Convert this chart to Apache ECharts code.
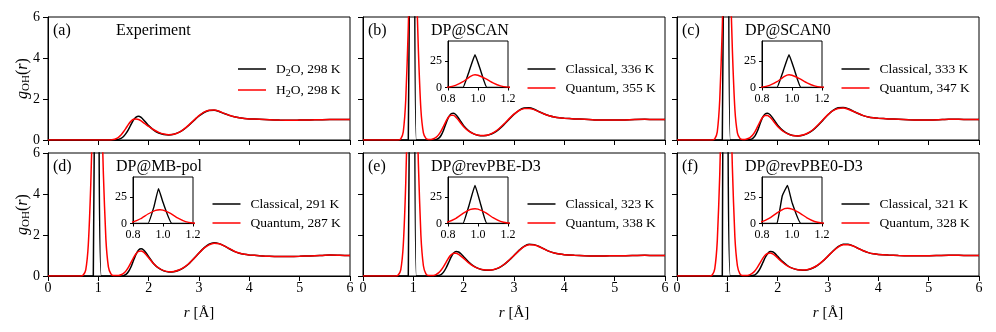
<!DOCTYPE html>
<html>
<head>
<meta charset="utf-8">
<script src="https://cdn.jsdelivr.net/npm/echarts@6/dist/echarts.min.js"></script>
<style>
  html, body { margin: 0; padding: 0; background: #fff; }
  #chart { width: 996px; height: 332px; }
</style>
</head>
<body>
<div id="chart"></div>
<script>
// g_OH(r), pairs of [r (Å), g]
const expD2O = [[0,0],[1.3,0],[1.35,0.01],[1.4,0.03],[1.45,0.08],[1.5,0.17],[1.55,0.32],[1.6,0.52],[1.65,0.76],[1.7,0.98],[1.75,1.12],[1.8,1.16],[1.85,1.1],[1.9,0.98],[1.95,0.84],[2.0,0.7],[2.1,0.48],[2.2,0.34],[2.3,0.27],[2.4,0.25],[2.5,0.28],[2.6,0.37],[2.7,0.52],[2.8,0.72],[2.9,0.95],[3.0,1.17],[3.1,1.34],[3.2,1.44],[3.3,1.45],[3.4,1.39],[3.5,1.29],[3.6,1.2],[3.7,1.13],[3.8,1.08],[3.9,1.05],[4.0,1.03],[4.2,1.01],[4.4,0.99],[4.6,0.97],[4.8,0.96],[5.0,0.97],[5.2,0.98],[5.4,0.99],[5.6,1.0],[5.8,1.0],[6.0,1.0]];
const expH2O = [[0,0],[1.25,0],[1.3,0.02],[1.35,0.06],[1.4,0.13],[1.45,0.24],[1.5,0.4],[1.55,0.58],[1.6,0.77],[1.65,0.92],[1.7,1.01],[1.75,1.03],[1.8,1.0],[1.85,0.93],[1.9,0.84],[1.95,0.75],[2.0,0.66],[2.1,0.5],[2.2,0.37],[2.3,0.29],[2.4,0.26],[2.5,0.28],[2.6,0.37],[2.7,0.53],[2.8,0.74],[2.9,0.97],[3.0,1.19],[3.1,1.36],[3.2,1.45],[3.3,1.46],[3.4,1.4],[3.5,1.3],[3.6,1.21],[3.7,1.13],[3.8,1.08],[3.9,1.05],[4.0,1.03],[4.2,1.01],[4.4,0.99],[4.6,0.97],[4.8,0.96],[5.0,0.97],[5.2,0.98],[5.4,0.99],[5.6,1.0],[5.8,1.0],[6.0,1.0]];

const scanCl = [[0,0],[0.88,0],[0.9,0],[0.94,15],[0.98,31],[1.02,15],[1.06,0],[1.4,0],[1.45,0.02],[1.5,0.08],[1.55,0.22],[1.6,0.48],[1.65,0.82],[1.7,1.12],[1.75,1.28],[1.8,1.3],[1.85,1.22],[1.9,1.06],[1.95,0.88],[2.0,0.7],[2.1,0.45],[2.2,0.3],[2.3,0.22],[2.4,0.21],[2.5,0.25],[2.6,0.35],[2.7,0.52],[2.8,0.75],[2.9,1.0],[3.0,1.25],[3.1,1.45],[3.2,1.56],[3.3,1.57],[3.4,1.5],[3.5,1.38],[3.6,1.27],[3.7,1.18],[3.8,1.12],[3.9,1.08],[4.0,1.06],[4.2,1.03],[4.4,1.01],[4.6,0.98],[4.8,0.97],[5.0,0.97],[5.2,0.98],[5.4,1.0],[5.6,1.01],[5.8,1.0],[6.0,1.0]];
const scanQu = [[0,0],[0.7,0],[0.75,0.05],[0.8,0.4],[0.85,2.0],[0.9,5.5],[0.95,10.5],[0.98,12],[1.0,11.6],[1.05,8.5],[1.1,4.4],[1.15,1.5],[1.2,0.35],[1.25,0.08],[1.3,0.03],[1.35,0.03],[1.4,0.06],[1.45,0.13],[1.5,0.25],[1.55,0.43],[1.6,0.67],[1.65,0.92],[1.7,1.12],[1.75,1.21],[1.8,1.2],[1.85,1.1],[1.9,0.96],[1.95,0.8],[2.0,0.65],[2.1,0.43],[2.2,0.3],[2.3,0.23],[2.4,0.22],[2.5,0.26],[2.6,0.37],[2.7,0.55],[2.8,0.78],[2.9,1.03],[3.0,1.26],[3.1,1.44],[3.2,1.53],[3.3,1.54],[3.4,1.48],[3.5,1.37],[3.6,1.27],[3.7,1.18],[3.8,1.12],[3.9,1.08],[4.0,1.06],[4.2,1.03],[4.4,1.01],[4.6,0.98],[4.8,0.97],[5.0,0.97],[5.2,0.98],[5.4,1.0],[5.6,1.01],[5.8,1.0],[6.0,1.0]];

const scan0Cl = [[0,0],[0.88,0],[0.9,0],[0.94,15],[0.98,31],[1.02,15],[1.06,0],[1.4,0],[1.45,0.02],[1.5,0.07],[1.55,0.2],[1.6,0.45],[1.65,0.79],[1.7,1.1],[1.75,1.27],[1.8,1.3],[1.85,1.23],[1.9,1.08],[1.95,0.9],[2.0,0.72],[2.1,0.47],[2.2,0.31],[2.3,0.22],[2.4,0.2],[2.5,0.23],[2.6,0.32],[2.7,0.48],[2.8,0.71],[2.9,0.97],[3.0,1.23],[3.1,1.44],[3.2,1.57],[3.3,1.59],[3.4,1.53],[3.5,1.41],[3.6,1.29],[3.7,1.19],[3.8,1.12],[3.9,1.08],[4.0,1.06],[4.2,1.03],[4.4,1.01],[4.6,0.99],[4.8,0.98],[5.0,0.98],[5.2,0.99],[5.4,1.01],[5.6,1.01],[5.8,1.0],[6.0,1.0]];
const scan0Qu = [[0,0],[0.7,0],[0.75,0.05],[0.8,0.4],[0.85,2.0],[0.9,5.5],[0.95,10.5],[0.98,12],[1.0,11.6],[1.05,8.5],[1.1,4.4],[1.15,1.5],[1.2,0.35],[1.25,0.08],[1.3,0.03],[1.35,0.03],[1.4,0.06],[1.45,0.12],[1.5,0.23],[1.55,0.41],[1.6,0.65],[1.65,0.9],[1.7,1.1],[1.75,1.2],[1.8,1.2],[1.85,1.11],[1.9,0.97],[1.95,0.81],[2.0,0.66],[2.1,0.44],[2.2,0.3],[2.3,0.22],[2.4,0.2],[2.5,0.24],[2.6,0.34],[2.7,0.5],[2.8,0.73],[2.9,0.99],[3.0,1.24],[3.1,1.43],[3.2,1.54],[3.3,1.56],[3.4,1.5],[3.5,1.4],[3.6,1.29],[3.7,1.19],[3.8,1.12],[3.9,1.08],[4.0,1.06],[4.2,1.03],[4.4,1.01],[4.6,0.99],[4.8,0.98],[5.0,0.98],[5.2,0.99],[5.4,1.01],[5.6,1.01],[5.8,1.0],[6.0,1.0]];

const mbpolCl = [[0,0],[0.88,0],[0.9,0],[0.94,16],[0.97,33],[1.0,20],[1.06,0],[1.45,0],[1.5,0.02],[1.55,0.08],[1.6,0.22],[1.65,0.45],[1.7,0.77],[1.75,1.07],[1.8,1.27],[1.85,1.33],[1.9,1.27],[1.95,1.12],[2.0,0.94],[2.1,0.6],[2.2,0.38],[2.3,0.25],[2.4,0.2],[2.5,0.21],[2.6,0.28],[2.7,0.41],[2.8,0.6],[2.9,0.85],[3.0,1.12],[3.1,1.37],[3.2,1.55],[3.3,1.62],[3.4,1.58],[3.5,1.47],[3.6,1.33],[3.7,1.2],[3.8,1.11],[3.9,1.06],[4.0,1.03],[4.2,0.99],[4.4,0.96],[4.6,0.95],[4.8,0.95],[5.0,0.96],[5.2,0.98],[5.4,1.0],[5.6,1.02],[5.8,1.01],[6.0,1.0]];
const mbpolQu = [[0,0],[0.65,0],[0.7,0.05],[0.75,0.3],[0.8,1.5],[0.85,4.5],[0.9,9],[0.95,12.5],[0.98,13],[1.0,12.6],[1.05,9.5],[1.1,5],[1.15,1.8],[1.2,0.45],[1.25,0.1],[1.3,0.02],[1.4,0.02],[1.45,0.06],[1.5,0.13],[1.55,0.25],[1.6,0.43],[1.65,0.66],[1.7,0.9],[1.75,1.09],[1.8,1.2],[1.85,1.22],[1.9,1.16],[1.95,1.04],[2.0,0.89],[2.1,0.6],[2.2,0.39],[2.3,0.26],[2.4,0.21],[2.5,0.22],[2.6,0.29],[2.7,0.42],[2.8,0.61],[2.9,0.86],[3.0,1.12],[3.1,1.36],[3.2,1.52],[3.3,1.6],[3.4,1.57],[3.5,1.47],[3.6,1.34],[3.7,1.21],[3.8,1.12],[3.9,1.06],[4.0,1.03],[4.2,0.99],[4.4,0.96],[4.6,0.95],[4.8,0.95],[5.0,0.96],[5.2,0.98],[5.4,1.0],[5.6,1.02],[5.8,1.01],[6.0,1.0]];

const revpbeCl = [[0,0],[0.88,0],[0.9,0],[0.94,17],[0.98,36],[1.02,17],[1.06,0],[1.45,0],[1.5,0.02],[1.55,0.07],[1.6,0.19],[1.65,0.39],[1.7,0.65],[1.75,0.92],[1.8,1.12],[1.85,1.2],[1.9,1.17],[1.95,1.07],[2.0,0.94],[2.1,0.68],[2.2,0.48],[2.3,0.36],[2.4,0.29],[2.5,0.28],[2.6,0.31],[2.7,0.4],[2.8,0.55],[2.9,0.76],[3.0,1.0],[3.1,1.25],[3.2,1.45],[3.3,1.55],[3.4,1.53],[3.5,1.44],[3.6,1.32],[3.7,1.2],[3.8,1.12],[3.9,1.07],[4.0,1.04],[4.2,1.01],[4.4,0.99],[4.6,0.98],[4.8,0.98],[5.0,0.99],[5.2,0.99],[5.4,1.0],[5.6,1.01],[5.8,1.0],[6.0,1.0]];
const revpbeQu = [[0,0],[0.65,0],[0.7,0.05],[0.75,0.3],[0.8,1.5],[0.85,4.6],[0.9,9.5],[0.95,13.3],[0.98,14],[1.0,13.6],[1.05,10.3],[1.1,5.5],[1.15,2.0],[1.2,0.5],[1.25,0.1],[1.3,0.02],[1.4,0.03],[1.45,0.07],[1.5,0.15],[1.55,0.28],[1.6,0.46],[1.65,0.67],[1.7,0.88],[1.75,1.03],[1.8,1.11],[1.85,1.11],[1.9,1.05],[1.95,0.96],[2.0,0.86],[2.1,0.64],[2.2,0.47],[2.3,0.36],[2.4,0.3],[2.5,0.29],[2.6,0.32],[2.7,0.41],[2.8,0.56],[2.9,0.77],[3.0,1.0],[3.1,1.24],[3.2,1.43],[3.3,1.52],[3.4,1.51],[3.5,1.43],[3.6,1.31],[3.7,1.2],[3.8,1.12],[3.9,1.07],[4.0,1.04],[4.2,1.01],[4.4,0.99],[4.6,0.98],[4.8,0.98],[5.0,0.99],[5.2,0.99],[5.4,1.0],[5.6,1.01],[5.8,1.0],[6.0,1.0]];

const revpbe0Cl = [[0,0],[0.88,0],[0.9,0],[0.935,26],[0.97,36],[1.0,20],[1.06,0],[1.45,0],[1.5,0.02],[1.55,0.06],[1.6,0.17],[1.65,0.36],[1.7,0.62],[1.75,0.89],[1.8,1.09],[1.85,1.19],[1.9,1.18],[1.95,1.09],[2.0,0.96],[2.1,0.7],[2.2,0.5],[2.3,0.37],[2.4,0.3],[2.5,0.28],[2.6,0.31],[2.7,0.39],[2.8,0.53],[2.9,0.73],[3.0,0.97],[3.1,1.22],[3.2,1.43],[3.3,1.55],[3.4,1.55],[3.5,1.47],[3.6,1.35],[3.7,1.23],[3.8,1.14],[3.9,1.08],[4.0,1.05],[4.2,1.02],[4.4,1.0],[4.6,0.99],[4.8,0.99],[5.0,0.99],[5.2,1.0],[5.4,1.01],[5.6,1.01],[5.8,1.0],[6.0,1.0]];
const revpbe0Qu = [[0,0],[0.65,0],[0.7,0.05],[0.75,0.35],[0.8,1.7],[0.85,5.0],[0.9,10],[0.95,14],[0.97,14.5],[1.0,13.6],[1.05,10],[1.1,5.3],[1.15,1.9],[1.2,0.5],[1.25,0.1],[1.3,0.02],[1.4,0.03],[1.45,0.07],[1.5,0.14],[1.55,0.26],[1.6,0.43],[1.65,0.64],[1.7,0.85],[1.75,1.01],[1.8,1.1],[1.85,1.12],[1.9,1.08],[1.95,0.99],[2.0,0.88],[2.1,0.66],[2.2,0.48],[2.3,0.37],[2.4,0.31],[2.5,0.29],[2.6,0.32],[2.7,0.4],[2.8,0.54],[2.9,0.74],[3.0,0.97],[3.1,1.21],[3.2,1.41],[3.3,1.52],[3.4,1.53],[3.5,1.46],[3.6,1.34],[3.7,1.23],[3.8,1.14],[3.9,1.08],[4.0,1.05],[4.2,1.02],[4.4,1.0],[4.6,0.99],[4.8,0.99],[5.0,0.99],[5.2,1.0],[5.4,1.01],[5.6,1.01],[5.8,1.0],[6.0,1.0]];

const panelTags = ['(a)', '(b)', '(c)', '(d)', '(e)', '(f)'];
const panelTitles = ['Experiment', 'DP@SCAN', 'DP@SCAN0', 'DP@MB-pol', 'DP@revPBE-D3', 'DP@revPBE0-D3'];
const legendNames = [
  ['D2O, 298 K', 'H2O, 298 K'],
  ['Classical, 336 K', 'Quantum, 355 K'],
  ['Classical, 333 K', 'Quantum, 347 K'],
  ['Classical, 291 K', 'Quantum, 287 K'],
  ['Classical, 323 K', 'Quantum, 338 K'],
  ['Classical, 321 K', 'Quantum, 328 K']
];
const panelData = [
  [expD2O, expH2O],
  [scanCl, scanQu],
  [scan0Cl, scan0Qu],
  [mbpolCl, mbpolQu],
  [revpbeCl, revpbeQu],
  [revpbe0Cl, revpbe0Qu]
];
const hasInset = [false, true, true, true, true, true];
const insetYTicks = [0, 25];

// layout (px)
const colLeft = [48, 363, 677];
const rowTop = [17, 153];
const panelW = 302, panelH = 123;
const insetDx = 85, insetDy = 24, insetW = 60, insetH = 46.5;

const FONT = 'Liberation Serif';
const lineColors = ['#000000', '#ff0000'];

const myChart = echarts.init(document.getElementById('chart'));

function legendText(name) {
  const m = name.match(/^([DH])2O(.*)$/);
  if (m) return '{p|}{n|' + m[1] + '}{s|2}{n|O' + m[2] + '}';
  return '{p|}{n|' + name + '}';
}

const grid = [], xAxis = [], yAxis = [], series = [], legend = [], title = [];
const axisCommon = {
  axisLine: { show: true, lineStyle: { color: '#000', width: 1 } },
  axisTick: { show: true, inside: false, length: 5, lineStyle: { color: '#000', width: 1 } },
  splitLine: { show: false }
};

// main panels
panelData.forEach((pair, i) => {
  const row = Math.floor(i / 3), col = i % 3;
  const left = colLeft[col], top = rowTop[row];
  grid.push({ left, top, width: panelW, height: panelH, show: true, borderColor: '#000', borderWidth: 1, backgroundColor: 'transparent', outerBoundsMode: 'none' });
  xAxis.push(Object.assign({}, axisCommon, {
    gridIndex: i, type: 'value', min: 0, max: 6, interval: 1,
    axisLabel: { show: row === 1, margin: 5, fontFamily: FONT, fontSize: 14, color: '#000' },
    name: row === 1 ? '{i|r}{n| [Å]}' : '',
    nameLocation: 'middle', nameGap: 28,
    nameTextStyle: {
      fontFamily: FONT, fontSize: 15, color: '#000',
      rich: {
        i: { fontFamily: FONT, fontSize: 15, fontStyle: 'italic', color: '#000', lineHeight: 18 },
        n: { fontFamily: FONT, fontSize: 15, color: '#000', lineHeight: 18 }
      }
    }
  }));
  yAxis.push(Object.assign({}, axisCommon, {
    gridIndex: i, type: 'value', min: 0, max: 6, interval: 2,
    axisLabel: { show: col === 0, margin: 8, fontFamily: FONT, fontSize: 14, color: '#000' },
    name: col === 0 ? '{i|g}{s|OH}{n|(}{i|r}{n|)}' : '',
    nameLocation: 'middle', nameGap: 16, nameMoveOverlap: false,
    nameTextStyle: {
      fontFamily: FONT, fontSize: 15, color: '#000',
      rich: {
        i: { fontFamily: FONT, fontSize: 16, fontStyle: 'italic', color: '#000', lineHeight: 18 },
        s: { fontFamily: FONT, fontSize: 11, color: '#000', lineHeight: 10, verticalAlign: 'bottom' },
        n: { fontFamily: FONT, fontSize: 16, color: '#000', lineHeight: 18 }
      }
    }
  }));
  pair.forEach((d, k) => {
    series.push({
      name: legendNames[i][k], type: 'line', data: d,
      xAxisIndex: i, yAxisIndex: i,
      symbol: 'none', showSymbol: false, smooth: 0.2, clip: true,
      lineStyle: { color: lineColors[k], width: 1.5 },
      itemStyle: { color: lineColors[k] },
      emphasis: { disabled: true }, z: 2 + k
    });
  });
  legend.push({
    data: legendNames[i], orient: 'vertical',
    left: left + (i === 0 ? 190 : 164.5), top: top + (row === 0 ? 45 : 44),
    icon: 'rect', itemWidth: 28, itemHeight: 1.5, itemGap: 5, padding: 0,
    selectedMode: false, formatter: legendText,
    textStyle: {
      fontFamily: FONT, fontSize: 13.5, color: '#000',
      rich: {
        p: { width: 5, lineHeight: 18 },
        n: { fontFamily: FONT, fontSize: 13.5, color: '#000', lineHeight: 18 },
        s: { fontFamily: FONT, fontSize: 10, color: '#000', lineHeight: 10, verticalAlign: 'bottom' }
      }
    }
  });
  const tStyle = { fontFamily: FONT, fontSize: 16, fontWeight: 'normal', color: '#000', lineHeight: 16 };
  title.push({ text: panelTags[i], left: left + 5, top: top + 6, padding: 0, textStyle: tStyle });
  title.push({ text: panelTitles[i], left: left + 68, top: top + 6, padding: 0, textStyle: tStyle });
});

// insets: zoom of the intramolecular peak
panelData.forEach((pair, i) => {
  if (!hasInset[i]) return;
  const row = Math.floor(i / 3), col = i % 3;
  const gi = grid.length;
  grid.push({
    left: colLeft[col] + insetDx, top: rowTop[row] + insetDy, width: insetW, height: insetH,
    show: true, borderColor: '#000', borderWidth: 1, backgroundColor: '#fff', outerBoundsMode: 'none'
  });
  xAxis.push(Object.assign({}, axisCommon, {
    gridIndex: gi, type: 'value', min: 0.8, max: 1.2, interval: 0.2,
    axisTick: { show: true, length: 3, lineStyle: { color: '#000', width: 1 } },
    axisLabel: { show: true, margin: 5, fontFamily: FONT, fontSize: 12, color: '#000', formatter: v => v.toFixed(1) }
  }));
  yAxis.push(Object.assign({}, axisCommon, {
    gridIndex: gi, type: 'value', min: 0, max: 44,
    axisTick: { show: true, length: 3, customValues: insetYTicks, lineStyle: { color: '#000', width: 1 } },
    axisLabel: { show: true, margin: 6, customValues: insetYTicks, fontFamily: FONT, fontSize: 12, color: '#000' }
  }));
  pair.forEach((d, k) => {
    series.push({
      name: 'inset ' + legendNames[i][k], type: 'line', data: d,
      xAxisIndex: gi, yAxisIndex: gi,
      symbol: 'none', showSymbol: false, smooth: 0.1, clip: true,
      lineStyle: { color: lineColors[k], width: 1.4 },
      emphasis: { disabled: true }, z: 5 + k
    });
  });
});

myChart.setOption({
  animation: false,
  backgroundColor: '#fff',
  title, grid, xAxis, yAxis, legend, series
});

window.addEventListener('resize', () => myChart.resize());
</script>
</body>
</html>
